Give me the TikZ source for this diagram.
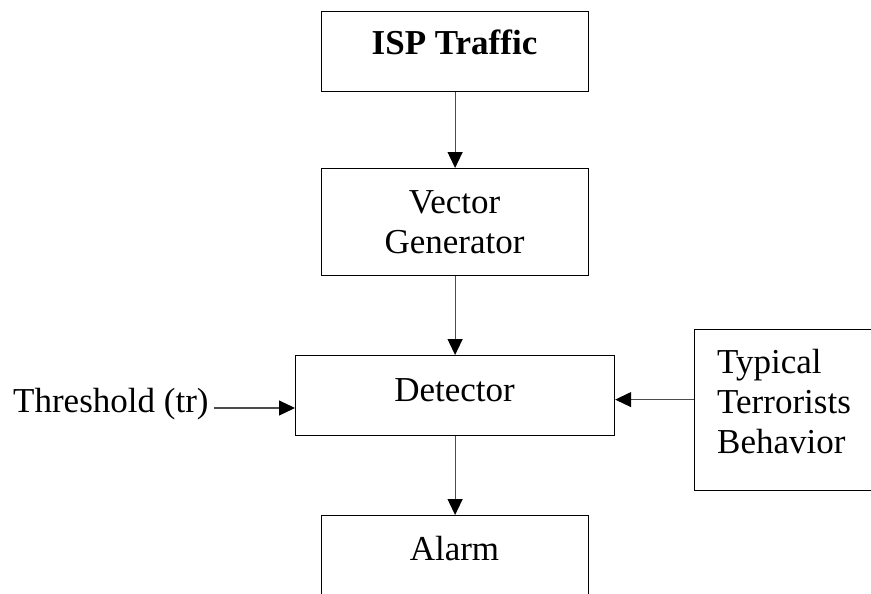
\documentclass[tikz,border=0pt]{standalone}
\usepackage{fontspec}
\setmainfont{Liberation Serif}
\usepackage{tikz}
\usetikzlibrary{positioning,arrows.meta}
\tikzset{bloque/.style={draw, rectangle, line width=1.2pt, inner sep=0pt}}
\tikzset{texto/.style={inner sep=0pt, font=\fontsize{35}{40}\selectfont}}
\tikzset{flecha/.style={line width=1.2pt, draw=black!70, -{Triangle[length=16pt, width=15pt, color=black]}}}

\begin{document}
\begin{tikzpicture}[x=1pt, y=-1pt]
            \useasboundingbox (0,0) rectangle (871,594);
            % bloques
            \node[bloque, minimum width=267pt, minimum height=80pt,  anchor=north west] (isp)   at (321,11)  {};
            \node[bloque, minimum width=267pt, minimum height=107pt, anchor=north west] (vec)   at (321,168) {};
            \node[bloque, minimum width=319pt, minimum height=80pt,  anchor=north west] (det)   at (295,355) {};
            \node[bloque, minimum width=220pt, minimum height=161pt, anchor=north west] (typ)   at (694,329) {};
            \node[bloque, minimum width=267pt, minimum height=120pt, anchor=north west] (alarm) at (321,515) {};

            % textos
            \node[texto, anchor=base] (isptxt) at (454.5,55) {\textbf{ISP Traffic}};
            \node[texto, anchor=north, align=center] (vectxt) at (454.5,190) {Vector\\Generator};
            \node[texto, anchor=base] (dettxt) at (454.5,401) {Detector};
            \node[texto, anchor=north west, align=left] (typtxt) at (717,349) {Typical\\Terrorists\\Behavior};
            \node[texto, anchor=base] (alarmtxt) at (454.5,560) {Alarm};
            \node[texto, anchor=base west] (thr) at (13,412) {Threshold (tr)};

            \draw[flecha] (isp) -- (vec);
            \draw[flecha] (vec) -- (det);
            \draw[flecha] (det) -- (alarm);
            \draw[flecha] ([yshift=-4pt]det.east -| typ.west) -- ([yshift=-4pt]det.east);
            \draw[flecha] ([shift={(5pt,4pt)}]thr.base east) coordinate (thrsal) -- (thrsal -| det.west);
        \end{tikzpicture}
\end{document}
